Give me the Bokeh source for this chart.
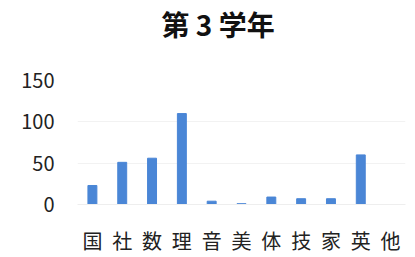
from bokeh.plotting import figure
from bokeh.models import Range1d, FactorRange, Title
from bokeh.embed import file_html
from bokeh.resources import INLINE

title_text = "第 3 学年"
subjects = ["国", "社", "数", "理", "音", "美", "体", "技", "家", "英", "他"]
counts = [23, 51, 56, 110, 4, 1, 9, 7, 7, 60, 0]
y_ticks = [0, 50, 100, 150]

FONT = "Noto Sans CJK JP"

p = figure(width=415, height=257, x_range=FactorRange(*subjects), y_range=Range1d(0, 150),
           output_backend="svg", toolbar_location=None,
           min_border_left=77, min_border_right=10, min_border_top=80, min_border_bottom=52)

# spacer panel between frame and the title (first added = closest to frame)
p.add_layout(Title(text=" ", text_font=FONT, text_font_size="10px", standoff=20), "above")
p.add_layout(Title(text=title_text, text_font=FONT, text_font_size="28px",
                   text_font_style="bold", text_color="#111111", align="left",
                   offset=84, standoff=0), "above")

p.vbar(x=subjects, top=counts, width=0.3, color="#4a86d6")

p.outline_line_color = None
p.xgrid.grid_line_color = None
p.ygrid.grid_line_color = "#f2f2f2"
p.yaxis.ticker = y_ticks
p.yaxis.axis_line_color = None
p.yaxis.major_tick_line_color = None
p.yaxis.minor_tick_line_color = None
p.yaxis.major_tick_out = 0
p.yaxis.major_tick_in = 0
p.yaxis.major_label_standoff = 23
p.yaxis.major_label_text_font = FONT
p.yaxis.major_label_text_font_size = "20px"
p.yaxis.major_label_text_color = "#222222"

p.xaxis.axis_line_color = "#eeeeee"
p.xaxis.major_tick_line_color = None
p.xaxis.major_tick_out = 0
p.xaxis.major_tick_in = 0
p.xaxis.major_label_standoff = 21
p.xaxis.major_label_text_font = FONT
p.xaxis.major_label_text_font_size = "20px"
p.xaxis.major_label_text_color = "#222222"

open("out.html", "w").write(file_html(p, INLINE))
